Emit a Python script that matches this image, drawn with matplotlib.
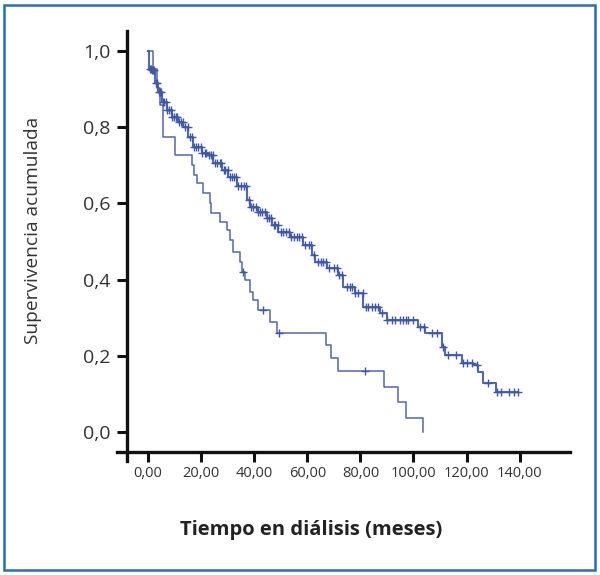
import numpy as np
import matplotlib
matplotlib.use("Agg")
import matplotlib.pyplot as plt
from matplotlib.patches import Rectangle

plt.rcParams['font.family'] = ['Open Sans', 'DejaVu Sans']

# group 1 (large group): drop times (months) and survival after each drop
g1_times = [0.2, 1.4, 2.6, 3.9, 5.2, 7.0, 8.9, 11.4, 13.3, 15.2, 17.1, 20.2, 22.7,
            24.6, 27.8, 30.2, 33.5, 37.2, 38.4, 41.4, 44.7, 46.7, 49.1, 53.5, 58.5,
            61.7, 62.9, 67.3, 71.7, 73.6, 78.0, 81.1, 87.4, 89.9, 101.8, 104.3,
            110.6, 111.9, 118.2, 122.5, 124.4, 126.3, 131.0]
g1_surv = [0.953, 0.950, 0.915, 0.893, 0.867, 0.845, 0.828, 0.814, 0.801, 0.775,
           0.749, 0.731, 0.727, 0.705, 0.688, 0.670, 0.646, 0.609, 0.591, 0.577,
           0.561, 0.543, 0.526, 0.513, 0.491, 0.465, 0.447, 0.430, 0.412, 0.381,
           0.364, 0.329, 0.312, 0.294, 0.276, 0.259, 0.224, 0.202, 0.180, 0.176,
           0.158, 0.128, 0.106]
g1_end = 139.5
g1_censored = [0.8, 1.2, 1.6, 2.0, 2.4, 3.0, 3.5, 4.0, 4.4, 5.0, 5.5, 6.0, 6.6, 7.2,
               8.0, 8.5, 9.0, 9.8, 10.5, 11.0, 11.8, 12.5, 13.2, 14.0, 15.0, 15.8,
               16.5, 17.5, 18.0, 19.0, 19.8, 20.5, 21.5, 22.0, 23.0, 23.8, 24.5,
               25.2, 26.0, 27.0, 27.5, 28.5, 29.0, 30.0, 31.0, 31.5, 32.5, 33.0,
               34.0, 35.0, 36.0, 37.0, 38.0, 38.8, 39.5, 40.5, 41.5, 42.0, 43.0,
               44.0, 45.0, 45.5, 46.5, 47.5, 48.0, 49.0, 50.0, 51.0, 52.0, 53.0,
               54.0, 55.0, 56.0, 57.0, 58.0, 59.0, 60.5, 61.5, 62.5, 64.0, 65.0,
               66.0, 67.0, 68.0, 70.0, 71.0, 72.0, 73.0, 75.0, 76.0, 77.0, 78.0,
               79.0, 81.0, 82.0, 83.0, 84.5, 85.5, 86.5, 88.0, 90.0, 92.0, 93.0,
               95.0, 96.0, 97.0, 98.0, 100.0, 102.5, 104.0, 107.0, 109.0, 111.0,
               113.0, 116.0, 118.5, 120.0, 122.0, 124.0, 128.0, 131.5, 133.0,
               136.0, 138.0, 139.5]

# group 2 (small group)
g2_times = [1.9, 3.4, 4.5, 5.6, 10.2, 16.5, 17.3, 18.3, 20.6, 23.4, 23.8, 27.1,
            29.6, 30.9, 31.9, 34.7, 35.3, 36.5, 38.4, 39.4, 41.5, 46.0, 48.5,
            67.0, 68.9, 71.5, 89.0, 94.3, 97.2, 103.5]
g2_surv = [0.953, 0.903, 0.858, 0.774, 0.727, 0.700, 0.675, 0.654, 0.627, 0.600,
           0.574, 0.552, 0.530, 0.504, 0.473, 0.447, 0.421, 0.399, 0.368, 0.346,
           0.320, 0.289, 0.261, 0.228, 0.193, 0.160, 0.119, 0.080, 0.038, 0.0]
g2_end = 103.5
g2_censored = [35.8, 43.4, 49.2, 81.7]

x_ticks = [0, 20, 40, 60, 80, 100, 120, 140]
x_labels = ['0,00', '20,00', '40,00', '60,00', '80,00', '100,00', '120,00', '140,00']
y_ticks = [0.0, 0.2, 0.4, 0.6, 0.8, 1.0]
y_labels = ['0,0', '0,2', '0,4', '0,6', '0,8', '1,0']

line_color = '#3f57a6'


def km_draw(ax, times, surv, end, censored, lw, ms):
    t = np.array([0.0] + times + [end])
    s = np.array([1.0] + surv + [surv[-1]])
    ax.step(t, s, where='post', color=line_color, lw=lw, clip_on=False, alpha=0.9)
    idx = np.searchsorted(t, censored, side='right') - 1
    ax.plot(censored, s[idx], '+', color=line_color, ms=ms, mew=1.0, clip_on=False)


fig = plt.figure(figsize=(6, 5.75), dpi=100)
ax = fig.add_axes([117 / 600, 1 - 461 / 575, (570 - 117) / 600, (461 - 31) / 575])

km_draw(ax, g2_times, g2_surv, g2_end, g2_censored, 1.1, 6)
km_draw(ax, g1_times, g1_surv, g1_end, g1_censored, 1.5, 5.5)

ax.set_xlim(-11.68, 158.95)
ax.set_ylim(-0.0761, 1.0525)
ax.spines['top'].set_visible(False)
ax.spines['right'].set_visible(False)
ax.spines['left'].set_position(('data', -7.9))
ax.spines['bottom'].set_position(('data', -0.0525))
for sp in ('left', 'bottom'):
    ax.spines[sp].set_linewidth(2.4)
    ax.spines[sp].set_color('#111111')

ax.set_xticks(x_ticks)
ax.set_xticklabels(x_labels, fontsize=10.5, color='#333333')
ax.set_yticks(y_ticks)
ax.set_yticklabels(y_labels, fontsize=14, color='#333333')
ax.tick_params(axis='both', length=7, width=2.2, color='#111111')
ax.tick_params(axis='x', pad=3)
ax.tick_params(axis='y', pad=5)

fig.text(311 / 600, 1 - 530 / 575, 'Tiempo en diálisis (meses)', fontsize=14.5,
         fontweight='bold', color='#222222', ha='center', va='center')
fig.text(33 / 600, 1 - 230 / 575, 'Supervivencia acumulada', fontsize=13.8,
         color='#333333', rotation=90, ha='center', va='center')

fig.patches.append(Rectangle((4 / 600, 5 / 575), 591 / 600, 565 / 575,
                             transform=fig.transFigure, fill=False,
                             edgecolor='#2c6cb4', lw=1.8))

fig.savefig('out.png', dpi=100)
